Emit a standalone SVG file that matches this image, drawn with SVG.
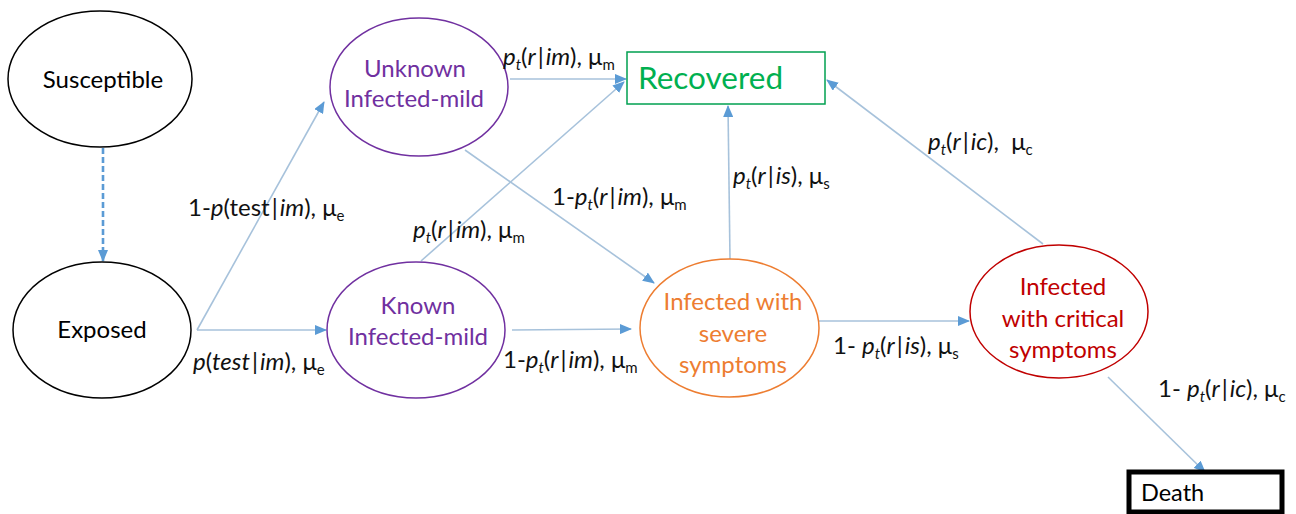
<svg xmlns="http://www.w3.org/2000/svg" width="1296" height="514" viewBox="0 0 1296 514">
<style>
text{font-family:Lato,"Open Sans","Liberation Sans",sans-serif;}
.node{font-size:24px;text-anchor:middle;}
.lbl{font-size:24px;fill:#111;}
.i{font-style:italic;}
.sub{font-size:15px;}
.conn line{stroke:#A7C2DB;stroke-width:1.6;marker-end:url(#ah);}
</style>
<defs>
<marker id="ah" markerUnits="userSpaceOnUse" markerWidth="12" markerHeight="10" refX="11" refY="5" orient="auto">
<path d="M0,0 L12,5 L0,10 Z" fill="#5B9BD5"/>
</marker>
</defs>
<rect width="1296" height="514" fill="#fff"/>
<g id="connectors" class="conn">
<line x1="103" y1="148" x2="103" y2="261" style="stroke:#5B9BD5;stroke-width:2.6;stroke-dasharray:6 3"/>
<line x1="197" y1="330" x2="324" y2="102"/>
<line x1="197" y1="330" x2="326" y2="330"/>
<line x1="510" y1="79" x2="626" y2="79"/>
<line x1="421" y1="261" x2="624" y2="82"/>
<line x1="465" y1="150" x2="654" y2="283"/>
<line x1="512" y1="330" x2="631" y2="329"/>
<line x1="730" y1="259" x2="728" y2="106"/>
<line x1="819" y1="321" x2="969" y2="321"/>
<line x1="1043" y1="244" x2="827" y2="80"/>
<line x1="1108" y1="377" x2="1205" y2="472"/>
</g>
<g id="susceptible">
<ellipse cx="100" cy="79" rx="92" ry="68" fill="#fff" stroke="#000" stroke-width="1.5"/>
<text class="node" x="103" y="88" fill="#000">Susceptible</text>
</g>
<g id="exposed">
<ellipse cx="102" cy="330" rx="89" ry="68" fill="#fff" stroke="#000" stroke-width="1.5"/>
<text class="node" x="102" y="338" fill="#000">Exposed</text>
</g>
<g id="unknown">
<ellipse cx="419" cy="87" rx="89" ry="69" fill="#fff" stroke="#7030A0" stroke-width="1.5"/>
<text class="node" x="415" y="77" fill="#7030A0">Unknown</text>
<text class="node" x="414" y="107" fill="#7030A0">Infected-mild</text>
</g>
<g id="known">
<ellipse cx="416" cy="330" rx="89" ry="68" fill="#fff" stroke="#7030A0" stroke-width="1.5"/>
<text class="node" x="418" y="314" fill="#7030A0">Known</text>
<text class="node" x="418" y="345" fill="#7030A0">Infected-mild</text>
</g>
<g id="recovered">
<rect x="627" y="52" width="198" height="52" fill="#fff" stroke="#00A050" stroke-width="1.5"/>
<text x="638" y="89" fill="#00B050" style="font-size:31.5px">Recovered</text>
</g>
<g id="severe">
<ellipse cx="729.5" cy="328" rx="89.5" ry="69" fill="#fff" stroke="#ED7D31" stroke-width="1.5"/>
<text class="node" x="733" y="310" fill="#ED7D31">Infected with</text>
<text class="node" x="733" y="342" fill="#ED7D31">severe</text>
<text class="node" x="733" y="373" fill="#ED7D31">symptoms</text>
</g>
<g id="critical">
<ellipse cx="1059" cy="311.5" rx="89" ry="66.5" fill="#fff" stroke="#C00000" stroke-width="1.5"/>
<text class="node" x="1063" y="295" fill="#C00000">Infected</text>
<text class="node" x="1063" y="327" fill="#C00000">with critical</text>
<text class="node" x="1063" y="358" fill="#C00000">symptoms</text>
</g>
<g id="death">
<rect x="1129" y="472" width="153" height="40" fill="#fff" stroke="#000" stroke-width="5"/>
<text x="1141" y="501" fill="#000" style="font-size:23.5px">Death</text>
</g>
<g id="labels">
<text class="lbl" x="503" y="65"><tspan class="i">p</tspan><tspan class="i sub" dy="5">t</tspan><tspan dy="-5">(</tspan><tspan class="i">r</tspan><tspan dx="2">|</tspan><tspan class="i" dx="2">im</tspan>), μ<tspan class="sub" dy="5">m</tspan></text>
<text class="lbl" x="188" y="216">1-<tspan class="i">p</tspan>(test<tspan dx="2">|</tspan><tspan class="i" dx="2">im</tspan>), μ<tspan class="sub" dy="5">e</tspan></text>
<text class="lbl" x="413" y="238"><tspan class="i">p</tspan><tspan class="i sub" dy="5">t</tspan><tspan dy="-5">(</tspan><tspan class="i">r</tspan><tspan dx="2">|</tspan><tspan class="i" dx="2">im</tspan>), μ<tspan class="sub" dy="5">m</tspan></text>
<text class="lbl" x="552" y="205">1-<tspan class="i">p</tspan><tspan class="i sub" dy="5">t</tspan><tspan dy="-5">(</tspan><tspan class="i">r</tspan><tspan dx="2">|</tspan><tspan class="i" dx="2">im</tspan>), μ<tspan class="sub" dy="5">m</tspan></text>
<text class="lbl" x="733" y="184"><tspan class="i">p</tspan><tspan class="i sub" dy="5">t</tspan><tspan dy="-5">(</tspan><tspan class="i">r</tspan><tspan dx="2">|</tspan><tspan class="i" dx="2">is</tspan>), μ<tspan class="sub" dy="5">s</tspan></text>
<text class="lbl" x="928" y="150" xml:space="preserve"><tspan class="i">p</tspan><tspan class="i sub" dy="5">t</tspan><tspan dy="-5">(</tspan><tspan class="i">r</tspan><tspan dx="2">|</tspan><tspan class="i" dx="2">ic</tspan>),  μ<tspan class="sub" dy="5">c</tspan></text>
<text class="lbl" x="193" y="370"><tspan class="i">p</tspan>(<tspan class="i">test</tspan><tspan dx="2">|</tspan><tspan class="i" dx="2">im</tspan>), μ<tspan class="sub" dy="5">e</tspan></text>
<text class="lbl" x="503" y="368">1-<tspan class="i">p</tspan><tspan class="i sub" dy="5">t</tspan><tspan dy="-5">(</tspan><tspan class="i">r</tspan><tspan dx="2">|</tspan><tspan class="i" dx="2">im</tspan>), μ<tspan class="sub" dy="5">m</tspan></text>
<text class="lbl" x="833" y="354">1- <tspan class="i">p</tspan><tspan class="i sub" dy="5">t</tspan><tspan dy="-5">(</tspan><tspan class="i">r</tspan><tspan dx="2">|</tspan><tspan class="i" dx="2">is</tspan>), μ<tspan class="sub" dy="5">s</tspan></text>
<text class="lbl" x="1158" y="397">1- <tspan class="i">p</tspan><tspan class="i sub" dy="5">t</tspan><tspan dy="-5">(</tspan><tspan class="i">r</tspan><tspan dx="2">|</tspan><tspan class="i" dx="2">ic</tspan>), μ<tspan class="sub" dy="5">c</tspan></text>
</g>
</svg>
